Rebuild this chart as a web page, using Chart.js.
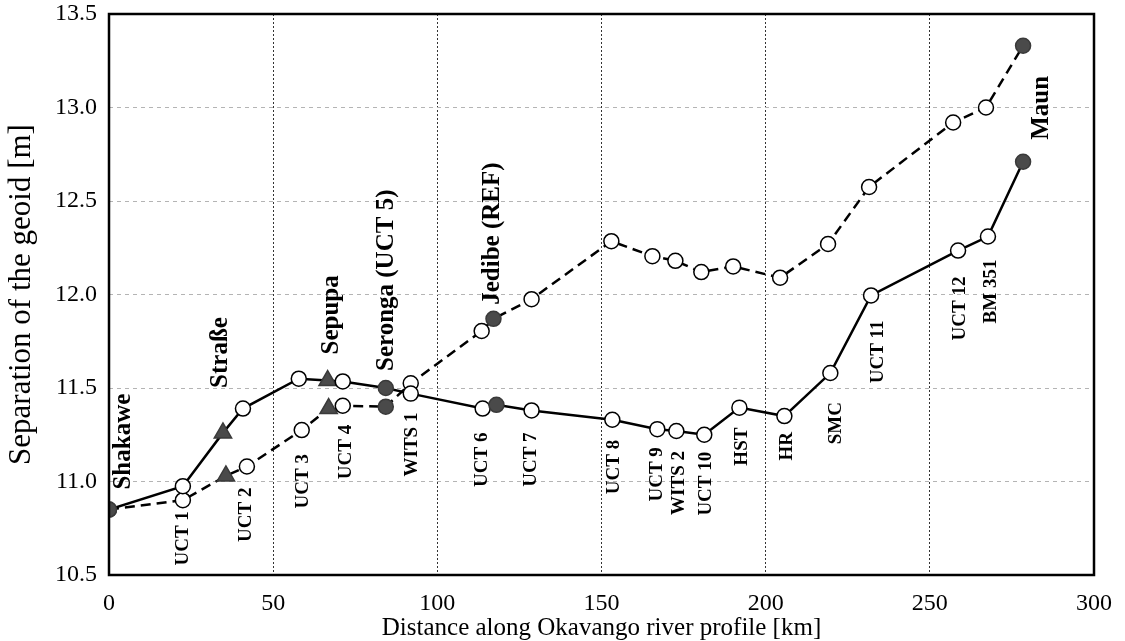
<!DOCTYPE html>
<html>
<head>
<meta charset="utf-8">
<script src="https://cdn.jsdelivr.net/npm/chart.js@4"></script>
<style>
    body { margin: 0; background: #fff; }
</style>
</head>
<body>
<canvas id="geoidChart" width="1125" height="641"></canvas>
<script>
// stations along the profile, upstream -> downstream
const stations = ['Shakawe', 'UCT 1', 'Straße', 'UCT 2', 'UCT 3', 'Sepupa', 'UCT 4', 'Seronga (UCT 5)', 'WITS 1',
    'UCT 6', 'Jedibe (REF)', 'UCT 7', 'UCT 8', 'UCT 9', 'WITS 2', 'UCT 10', 'HST', 'HR', 'SMC', 'UCT 11',
    'UCT 12', 'BM 351', 'Maun'];
const stationKind = ['town', 'open', 'tri', 'open', 'open', 'tri', 'open', 'town', 'open',
    'open', 'town', 'open', 'open', 'open', 'open', 'open', 'open', 'open', 'open', 'open',
    'open', 'open', 'town'];

// solid profile
const distSolid = [0, 22.5, 34.7, 40.8, 57.8, 66.6, 71.2, 84.3, 91.9, 113.8, 118, 128.7, 153.3, 167, 172.8,
    181.3, 192, 205.7, 219.7, 232.1, 258.6, 267.7, 278.4];
const geoidSolid = [10.85, 10.975, 11.26, 11.39, 11.55, 11.54, 11.535, 11.5, 11.47, 11.39, 11.41, 11.38, 11.33,
    11.28, 11.27, 11.25, 11.395, 11.35, 11.58, 11.995, 12.235, 12.31, 12.71];

// dashed profile
const distDashed = [0, 22.5, 35.6, 42, 58.7, 66.9, 71.2, 84.3, 91.9, 113.5, 117.1, 128.7, 153, 165.5, 172.5,
    180.4, 190.1, 204.4, 219, 231.5, 257.1, 267.1, 278.4];
const geoidDashed = [10.85, 10.9, 11.03, 11.08, 11.275, 11.39, 11.405, 11.4, 11.525, 11.805, 11.87, 11.975, 12.285,
    12.205, 12.18, 12.12, 12.15, 12.09, 12.27, 12.575, 12.92, 13.0, 13.33];

const xTicks = [0, 50, 100, 150, 200, 250, 300];
const yTicks = [10.5, 11.0, 11.5, 12.0, 12.5, 13.0, 13.5];

// where each station name sits relative to its point (px), 'start' = bottom of the text, 'end' = top
const labelPos = [
    {on: 's', dx: 15, dy: -20, at: 'start'},
    {on: 'd', dx: 0, dy: 11, at: 'end'},
    {on: 's', dx: -2, dy: -45, at: 'start'},
    {on: 'd', dx: -1, dy: 21, at: 'end'},
    {on: 'd', dx: 1, dy: 24, at: 'end'},
    {on: 's', dx: 4, dy: -26, at: 'start'},
    {on: 'd', dx: 3, dy: 19, at: 'end'},
    {on: 's', dx: 1, dy: -17, at: 'start'},
    {on: 's', dx: 1, dy: 19, at: 'end'},
    {on: 's', dx: -1, dy: 24, at: 'end'},
    {on: 'd', dx: -1, dy: -14, at: 'start'},
    {on: 's', dx: 0, dy: 22, at: 'end'},
    {on: 's', dx: 2, dy: 20, at: 'end'},
    {on: 's', dx: 0, dy: 18, at: 'end'},
    {on: 's', dx: 3, dy: 20, at: 'end'},
    {on: 's', dx: 2, dy: 17, at: 'end'},
    {on: 's', dx: 3, dy: 20, at: 'end'},
    {on: 's', dx: 3, dy: 16, at: 'end'},
    {on: 's', dx: 6, dy: 29, at: 'end'},
    {on: 's', dx: 7, dy: 25, at: 'end'},
    {on: 's', dx: 2, dy: 26, at: 'end'},
    {on: 's', dx: 3, dy: 23, at: 'end'},
    {on: 's', dx: 18, dy: -22, at: 'start'}
];

const SERIF = '"Liberation Serif", "Times New Roman", serif';

function pointStyleFor(ctx) {
    return stationKind[ctx.dataIndex] === 'tri' ? 'triangle' : 'circle';
}
function pointFillFor(ctx) {
    return stationKind[ctx.dataIndex] === 'open' ? '#ffffff' : '#4a4a4a';
}
function pointRadiusFor(ctx) {
    return stationKind[ctx.dataIndex] === 'tri' ? 10 : 7.5;
}
function pointBorderFor(ctx) {
    return stationKind[ctx.dataIndex] === 'open' ? '#000' : '#3a3a3a';
}

// station names, rotated
const stationLabels = {
    id: 'stationLabels',
    afterDatasetsDraw(chart) {
        const {ctx, scales: {x, y}} = chart;
        stations.forEach((name, i) => {
            const p = labelPos[i];
            const px = x.getPixelForValue(p.on === 's' ? distSolid[i] : distDashed[i]);
            const py = y.getPixelForValue(p.on === 's' ? geoidSolid[i] : geoidDashed[i]);
            const big = stationKind[i] !== 'open';
            ctx.save();
            ctx.translate(px + p.dx, py + p.dy);
            ctx.rotate(-Math.PI / 2);
            ctx.font = (big ? 'bold 25px ' : 'bold 19px ') + SERIF;
            ctx.fillStyle = '#000';
            ctx.textAlign = p.at === 'start' ? 'left' : 'right';
            ctx.textBaseline = 'middle';
            ctx.fillText(name, 0, 0);
            ctx.restore();
        });
    }
};

// black box round the plot
const plotFrame = {
    id: 'plotFrame',
    afterDraw(chart) {
        const {ctx, chartArea: a} = chart;
        ctx.save();
        ctx.strokeStyle = '#000';
        ctx.lineWidth = 2.5;
        ctx.strokeRect(a.left, a.top, a.right - a.left, a.bottom - a.top);
        ctx.restore();
    }
};

const pointOpts = {
    pointStyle: pointStyleFor,
    pointRadius: pointRadiusFor,
    pointHoverRadius: pointRadiusFor,
    pointBackgroundColor: pointFillFor,
    pointBorderColor: pointBorderFor,
    pointBorderWidth: 1.5
};

new Chart(document.getElementById('geoidChart').getContext('2d'), {
    type: 'line',
    data: {
        datasets: [
            {
                label: 'solid',
                data: distSolid.map((d, i) => ({x: d, y: geoidSolid[i]})),
                borderColor: '#000',
                borderWidth: 2.5,
                tension: 0,
                ...pointOpts
            },
            {
                label: 'dashed',
                data: distDashed.map((d, i) => ({x: d, y: geoidDashed[i]})),
                borderColor: '#000',
                borderWidth: 2.5,
                borderDash: [10, 6],
                tension: 0,
                ...pointOpts
            }
        ]
    },
    options: {
        responsive: false,
        animation: false,
        layout: {padding: {left: 0, top: 14, right: 31, bottom: 0}},
        plugins: {
            legend: {display: false},
            tooltip: {enabled: false}
        },
        scales: {
            x: {
                type: 'linear',
                min: 0,
                max: 300,
                afterBuildTicks: s => { s.ticks = xTicks.map(v => ({value: v})); },
                afterFit: s => { s.height = 66; s.paddingLeft = 0; s.paddingRight = 0; },
                border: {display: false, dash: [2, 2]},
                grid: {color: '#333', drawTicks: false},
                ticks: {color: '#000', padding: 14, font: {family: SERIF, size: 24}},
                title: {
                    display: true,
                    text: 'Distance along Okavango river profile [km]',
                    color: '#000',
                    font: {family: SERIF, size: 25, lineHeight: 1},
                    padding: {top: 0, bottom: 0}
                }
            },
            y: {
                min: 10.5,
                max: 13.5,
                afterBuildTicks: s => { s.ticks = yTicks.map(v => ({value: v})); },
                afterFit: s => { s.width = 109; s.paddingTop = 0; s.paddingBottom = 0; },
                border: {display: false, dash: [4, 4]},
                grid: {color: '#b4b4b4', drawTicks: false},
                ticks: {
                    color: '#000',
                    padding: 12,
                    font: {family: SERIF, size: 24},
                    callback: v => v.toFixed(1)
                },
                title: {
                    display: true,
                    text: 'Separation of the geoid [m]',
                    color: '#000',
                    font: {family: SERIF, size: 31, lineHeight: 1.2},
                    padding: {top: 3, bottom: 0}
                }
            }
        }
    },
    plugins: [stationLabels, plotFrame]
});
</script>
</body>
</html>
